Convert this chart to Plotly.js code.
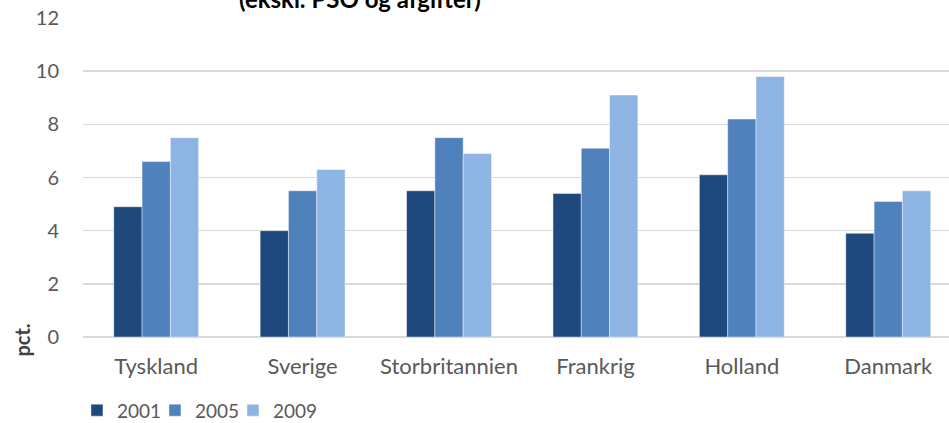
<!DOCTYPE html>
<html>
<head>
<meta charset="utf-8">
<script src="https://cdn.plot.ly/plotly-3.0.1.min.js"></script>
<style>html,body{margin:0;padding:0;background:#fff;}#chart{width:949px;height:423px;}</style>
</head>
<body>
<div id="chart"></div>
<script>
var categories = ["Tyskland", "Sverige", "Storbritannien", "Frankrig", "Holland", "Danmark"];
var seriesNames = ["2001", "2005", "2009"];
var values2001 = [4.9, 4.0, 5.5, 5.4, 6.1, 3.9];
var values2005 = [6.6, 5.5, 7.5, 7.1, 8.2, 5.1];
var values2009 = [7.5, 6.3, 6.9, 9.1, 9.8, 5.5];
var yTicks = [0, 2, 4, 6, 8, 10, 12];
var titleText = "(ekskl. PSO og afgifter)";
var yTitleText = "pct.";

var colors = ["#1F497D", "#4F81BD", "#8EB4E3"];
var allValues = [values2001, values2005, values2009];
var legendIds = ["legend", "legend2", "legend3"];
var legendX = [0.0811, 0.1633, 0.2455];
var FONT = "Lato, 'Open Sans', sans-serif";

var traces = allValues.map(function (vals, i) {
  return {
    type: "bar",
    name: seriesNames[i],
    x: categories,
    y: vals,
    legend: legendIds[i],
    marker: { color: colors[i], line: { color: "rgba(255,255,255,0.55)", width: 0.8 } },
    hoverinfo: "x+y+name"
  };
});

var layout = {
  width: 949,
  height: 423,
  margin: { l: 83, r: 0, t: 18, b: 86, pad: 0, autoexpand: false },
  paper_bgcolor: "#ffffff",
  plot_bgcolor: "#ffffff",
  barmode: "group",
  bargap: 0.42,
  bargroupgap: 0,
  font: { family: FONT, color: "#595959", size: 20 },
  xaxis: {
    type: "category",
    range: [-0.5, 5.415],
    showgrid: false,
    showline: false,
    zeroline: false,
    ticks: "",
    tickfont: { family: FONT, size: 22, color: "#595959" },
    ticklabelstandoff: 14,
    fixedrange: true,
    automargin: false
  },
  yaxis: {
    range: [0, 12],
    tickvals: yTicks,
    ticktext: yTicks.map(String),
    showgrid: true,
    gridcolor: "#D9D9D9",
    gridwidth: 1.5,
    zeroline: true,
    zerolinecolor: "#D9D9D9",
    zerolinewidth: 1.5,
    showline: false,
    ticks: "",
    tickfont: { family: FONT, size: 20, color: "#595959" },
    ticklabelstandoff: 23,
    fixedrange: true,
    automargin: false
  },
  showlegend: true,
  annotations: [
    {
      text: "<b>" + titleText + "</b>",
      xref: "paper", yref: "paper",
      x: 0.32, y: 1.062,
      xanchor: "center", yanchor: "middle",
      showarrow: false,
      font: { family: FONT, size: 24, color: "#000000" }
    },
    {
      text: "<b>" + yTitleText + "</b>",
      xref: "paper", yref: "paper",
      x: -0.070, y: -0.01,
      xanchor: "center", yanchor: "middle",
      textangle: -90,
      showarrow: false,
      font: { family: FONT, size: 20, color: "#404040" }
    }
  ]
};

legendIds.forEach(function (id, i) {
  layout[id] = {
    orientation: "h",
    xref: "container",
    yref: "container",
    x: legendX[i],
    xanchor: "left",
    y: 0.03,
    yanchor: "middle",
    font: { family: FONT, size: 19, color: "#595959" },
    itemwidth: 30,
    bgcolor: "rgba(0,0,0,0)"
  };
});

Plotly.newPlot("chart", traces, layout, { displayModeBar: false, staticPlot: true });
</script>
</body>
</html>
